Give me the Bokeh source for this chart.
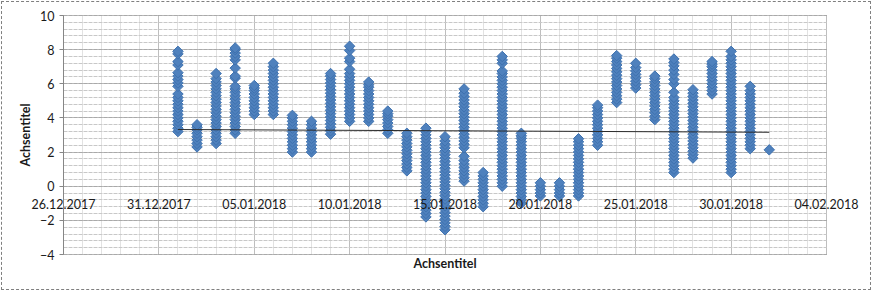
import numpy as np
from datetime import datetime, timedelta
from bokeh.plotting import figure
from bokeh.models import (Range1d, FixedTicker, LinearAxis, DatetimeTickFormatter,
                          InlineStyleSheet)
from bokeh.embed import file_html
from bokeh.resources import INLINE

# ---------------- data ----------------
tick_labels = ["26.12.2017", "31.12.2017", "05.01.2018", "10.01.2018", "15.01.2018",
               "20.01.2018", "25.01.2018", "30.01.2018", "04.02.2018"]
y_ticks = [-4, -2, 0, 2, 4, 6, 8, 10]

jan01 = [3.2, 3.4, 3.6, 3.8, 4.0, 4.2, 4.4, 4.6, 4.8, 5.0, 5.2, 5.4, 5.85, 6.05, 6.25, 6.45, 6.65, 7.1, 7.3, 7.75, 7.9]
jan02 = [2.3, 2.5, 2.7, 2.9, 3.1, 3.3, 3.45, 3.6]
jan03 = [2.5, 2.7, 2.9, 3.1, 3.3, 3.5, 3.7, 3.9, 4.1, 4.3, 4.5, 4.7, 4.9, 5.1, 5.3, 5.5, 5.7, 5.9, 6.1, 6.3, 6.6]
jan04 = [3.1, 3.3, 3.5, 3.7, 3.9, 4.1, 4.3, 4.5, 4.7, 4.9, 5.1, 5.3, 5.5, 5.7, 5.85, 6.33, 6.45, 6.92, 7.4, 7.6, 7.8, 8.0, 8.1]
jan05 = [4.2, 4.4, 4.6, 4.8, 5.0, 5.2, 5.4, 5.6, 5.75, 5.9]
jan06 = [4.2, 4.4, 4.6, 4.8, 5.0, 5.2, 5.4, 5.6, 5.8, 6.0, 6.2, 6.4, 6.6, 6.8, 7.0, 7.2]
jan07 = [2.0, 2.2, 2.4, 2.6, 2.8, 3.0, 3.2, 3.4, 3.6, 3.8, 4.0, 4.15]
jan08 = [2.0, 2.2, 2.4, 2.6, 2.8, 3.0, 3.2, 3.4, 3.6, 3.8]
jan09 = [3.05, 3.25, 3.45, 3.65, 3.85, 4.05, 4.25, 4.45, 4.65, 4.85, 5.05, 5.25, 5.45, 5.65, 5.85, 6.05, 6.25, 6.45, 6.6]
jan10 = [3.8, 4.0, 4.2, 4.4, 4.6, 4.8, 5.0, 5.2, 5.4, 5.6, 5.8, 6.0, 6.2, 6.4, 6.6, 6.85, 7.3, 7.5, 7.95, 8.2]
jan11 = [3.8, 4.0, 4.2, 4.4, 4.6, 4.8, 5.0, 5.2, 5.4, 5.6, 5.8, 5.95, 6.1]
jan12 = [3.1, 3.3, 3.5, 3.7, 3.9, 4.1, 4.25, 4.4]
jan13 = [0.9, 1.1, 1.3, 1.5, 1.7, 1.9, 2.1, 2.3, 2.5, 2.7, 2.9, 3.1]
jan14 = [-1.8, -1.6, -1.4, -1.2, -1.0, -0.8, -0.6, -0.4, -0.2, 0.0, 0.2, 0.4, 0.6, 0.8, 1.0, 1.2, 1.4,
         1.6, 1.8, 2.0, 2.2, 2.4, 2.6, 2.8, 3.0, 3.2, 3.4]
jan15 = [-2.55, -2.35, -2.15, -1.95, -1.75, -1.55, -1.35, -1.15, -0.95, -0.75, -0.55, -0.35, -0.15, 0.05,
         0.25, 0.45, 0.65, 0.85, 1.05, 1.25, 1.45, 1.65, 1.85, 2.05, 2.25, 2.45, 2.65, 2.9]
jan16 = [0.3, 0.5, 0.7, 0.9, 1.1, 1.3, 1.5, 1.75, 2.25, 2.45, 2.65, 2.85, 3.05, 3.25, 3.45, 3.65, 3.85,
         4.05, 4.25, 4.45, 4.65, 4.85, 5.05, 5.25, 5.45, 5.7]
jan17 = [-1.2, -1.0, -0.8, -0.6, -0.4, -0.2, 0.0, 0.2, 0.4, 0.6, 0.8]
jan18 = [0.0, 0.2, 0.4, 0.6, 0.8, 1.0, 1.2, 1.4, 1.6, 1.8, 2.0, 2.2, 2.4, 2.6, 2.8, 3.0, 3.2, 3.4, 3.6,
         3.8, 4.0, 4.2, 4.4, 4.6, 4.8, 5.0, 5.2, 5.4, 5.6, 5.8, 6.0, 6.2, 6.4, 6.6, 6.75, 7.2, 7.4, 7.6]
jan19 = [-1.0, -0.8, -0.6, -0.4, -0.2, 0.0, 0.2, 0.4, 0.6, 0.8, 1.0, 1.2, 1.4, 1.6, 1.8, 2.0, 2.2, 2.4,
         2.6, 2.8, 2.95, 3.1]
jan20 = [-0.57, -0.4, -0.2, 0.0, 0.2]
jan21 = [-0.57, -0.4, -0.2, 0.0, 0.2]
jan22 = [-0.57, -0.4, -0.2, 0.0, 0.2, 0.4, 0.6, 0.8, 1.0, 1.2, 1.4, 1.6, 1.8, 2.0, 2.2, 2.4, 2.6, 2.78]
jan23 = [2.4, 2.6, 2.8, 3.0, 3.2, 3.4, 3.6, 3.8, 4.0, 4.2, 4.4, 4.6, 4.75]
jan24 = [4.9, 5.1, 5.3, 5.5, 5.7, 5.9, 6.1, 6.3, 6.5, 6.7, 6.9, 7.1, 7.3, 7.5, 7.65]
jan25 = [5.75, 5.95, 6.15, 6.35, 6.55, 6.75, 6.95, 7.2]
jan26 = [3.9, 4.1, 4.3, 4.5, 4.7, 4.9, 5.1, 5.3, 5.5, 5.7, 5.9, 6.1, 6.3, 6.45]
jan27 = [0.8, 1.0, 1.2, 1.4, 1.6, 1.8, 2.0, 2.2, 2.4, 2.6, 2.8, 3.0, 3.2, 3.4, 3.6, 3.8, 4.0, 4.2, 4.4,
         4.6, 4.8, 5.0, 5.2, 5.5, 6.0, 6.25, 6.55, 6.8, 7.05, 7.25, 7.45]
jan28 = [1.65, 1.85, 2.05, 2.25, 2.45, 2.65, 2.85, 3.05, 3.25, 3.45, 3.65, 3.85, 4.05, 4.25, 4.45, 4.65,
         4.85, 5.05, 5.25, 5.45, 5.65]
jan29 = [5.4, 5.6, 5.8, 6.0, 6.2, 6.4, 6.6, 6.8, 7.0, 7.15, 7.3]
jan30 = [0.8, 1.0, 1.2, 1.4, 1.6, 1.8, 2.0, 2.2, 2.4, 2.6, 2.8, 3.0, 3.2, 3.4, 3.6, 3.8, 4.0, 4.2, 4.4,
         4.6, 4.8, 5.0, 5.2, 5.4, 5.6, 5.8, 6.0, 6.2, 6.4, 6.6, 6.8, 7.0, 7.2, 7.4, 7.6, 7.9]
jan31 = [2.2, 2.4, 2.6, 2.8, 3.0, 3.2, 3.4, 3.6, 3.8, 4.0, 4.2, 4.4, 4.6, 4.8, 5.0, 5.2, 5.4, 5.6, 5.85]
feb01 = [2.13]

day_labels = ["01.01.2018", "02.01.2018", "03.01.2018", "04.01.2018", "05.01.2018", "06.01.2018",
              "07.01.2018", "08.01.2018", "09.01.2018", "10.01.2018", "11.01.2018", "12.01.2018",
              "13.01.2018", "14.01.2018", "15.01.2018", "16.01.2018", "17.01.2018", "18.01.2018",
              "19.01.2018", "20.01.2018", "21.01.2018", "22.01.2018", "23.01.2018", "24.01.2018",
              "25.01.2018", "26.01.2018", "27.01.2018", "28.01.2018", "29.01.2018", "30.01.2018",
              "31.01.2018", "01.02.2018"]
day_values = [jan01, jan02, jan03, jan04, jan05, jan06, jan07, jan08, jan09, jan10, jan11, jan12,
              jan13, jan14, jan15, jan16, jan17, jan18, jan19, jan20, jan21, jan22, jan23, jan24,
              jan25, jan26, jan27, jan28, jan29, jan30, jan31, feb01]

trend_dates = ["01.01.2018", "01.02.2018"]
trend_values = [3.32, 3.16]

# ---------------- layout constants (pixels) ----------------
W, H = 872, 291
PLOT_L, PLOT_R, PLOT_T, PLOT_B = 63, 826, 15, 254

# ---------------- helpers ----------------
def to_dt(s):
    return datetime.strptime(s, "%d.%m.%Y")

EPOCH = datetime(1970, 1, 1)
def to_ms(d):
    return (d - EPOCH).total_seconds() * 1000.0

xs, ys = [], []
for lbl, vals in zip(day_labels, day_values):
    for v in vals:
        xs.append(to_dt(lbl))
        ys.append(v)

tick_dts = [to_dt(t) for t in tick_labels]
x_first, x_last = tick_dts[0], tick_dts[-1]
major_ms = [to_ms(d) for d in tick_dts]
minor_ms = [to_ms(x_first + timedelta(days=i)) for i in range((x_last - x_first).days + 1)]
y_lo, y_hi = y_ticks[0], y_ticks[-1]
y_minor = list(np.round(np.arange(y_lo, y_hi + 0.001, 0.4), 2))

# the frame covers the whole canvas so that labels outside the plot area are not clipped
ms_per_px = (major_ms[-1] - major_ms[0]) / (PLOT_R - PLOT_L)
u_per_px = (y_hi - y_lo) / (PLOT_B - PLOT_T)
xr = Range1d(major_ms[0] - PLOT_L * ms_per_px, major_ms[-1] + (W - PLOT_R) * ms_per_px)
yr = Range1d(y_lo - (H - PLOT_B) * u_per_px, y_hi + PLOT_T * u_per_px)

FONT = "Lato"
TXT = "#1a1a1a"
FS = "12.5px"

p = figure(width=W, height=H, x_axis_type="datetime", output_backend="svg",
           toolbar_location=None, title=None, x_range=xr, y_range=yr,
           min_border=0, min_border_left=0, min_border_right=0,
           min_border_top=0, min_border_bottom=0)
p.background_fill_alpha = 0
p.border_fill_alpha = 0
p.outline_line_color = None
p.stylesheets = [InlineStyleSheet(css=":host { outline: 1px dashed #7f7f7f; outline-offset: -2px; background: white; }")]

# y axis, fixed at the left edge of the plot area
yax = p.yaxis[0]
yax.fixed_location = major_ms[0]
yax.bounds = (y_lo, y_hi)
yax.ticker = FixedTicker(ticks=y_ticks, minor_ticks=y_minor)
yax.axis_line_color = "#868686"
yax.major_tick_line_color = "#868686"
yax.major_tick_out = 4
yax.major_tick_in = 0
yax.minor_tick_line_color = None
yax.major_label_text_font = FONT
yax.major_label_text_font_size = FS
yax.major_label_text_color = TXT
yax.major_label_standoff = 5
yax.axis_label = "Achsentitel"
yax.axis_label_text_font = FONT
yax.axis_label_text_font_style = "bold"
yax.axis_label_text_font_size = FS
yax.axis_label_text_color = TXT
yax.axis_label_standoff = 4

# x axis: date labels at y = 0 (Excel crosses the axis at 0)
fmt = "%d.%m.%Y"
xax = p.xaxis[0]
xax.ticker = FixedTicker(ticks=major_ms, minor_ticks=minor_ms)
xax.formatter = DatetimeTickFormatter(days=fmt, months=fmt, years=fmt, hours=fmt,
                                      hourmin=fmt, minutes=fmt, minsec=fmt, seconds=fmt,
                                      milliseconds=fmt, microseconds=fmt, context=None)
xax.fixed_location = 0
xax.axis_line_color = None
xax.major_tick_line_color = None
xax.minor_tick_line_color = None
xax.major_label_standoff = 7
xax.major_label_text_font = FONT
xax.major_label_text_font_size = FS
xax.major_label_text_color = TXT

# axis only for the bottom title, fixed at the bottom of the plot area
title_ax = LinearAxis(ticker=FixedTicker(ticks=[]), axis_line_color=None,
                      major_tick_line_color=None, minor_tick_line_color=None,
                      axis_label="Achsentitel", axis_label_text_font=FONT,
                      axis_label_text_font_style="bold", axis_label_text_font_size=FS,
                      axis_label_text_color=TXT, axis_label_standoff=1,
                      fixed_location=y_lo, bounds=(major_ms[0], major_ms[-1]))
p.add_layout(title_ax, "below")

# grids limited to the plot area
xg = p.xgrid[0]
xg.ticker = FixedTicker(ticks=major_ms, minor_ticks=minor_ms)
xg.bounds = (major_ms[0], major_ms[-1])
yg = p.ygrid[0]
yg.ticker = FixedTicker(ticks=y_ticks, minor_ticks=y_minor)
yg.bounds = (y_lo, y_hi)
if "cross_bounds" in xg.properties():
    xg.cross_bounds = (y_lo, y_hi)
    yg.cross_bounds = (major_ms[0], major_ms[-1])

xg.grid_line_color = "#9a9a9a"
xg.grid_line_dash = "1 1"
xg.minor_grid_line_color = "#c4c4c4"
xg.minor_grid_line_dash = "1 1"
yg.grid_line_color = "#8a8a8a"
yg.grid_line_dash = "1 1"
yg.minor_grid_line_color = "#c8c8c8"
yg.minor_grid_line_dash = "4 1"

# data
p.scatter(xs, ys, marker="square", angle=np.pi / 4, size=7.4,
          fill_color="#4F81BD", line_color="#3F72AF", line_width=1)

p.line([to_dt(d) for d in trend_dates], trend_values, line_color="#2b2b2b", line_width=1)

open("out.html", "w").write(file_html(p, INLINE))
